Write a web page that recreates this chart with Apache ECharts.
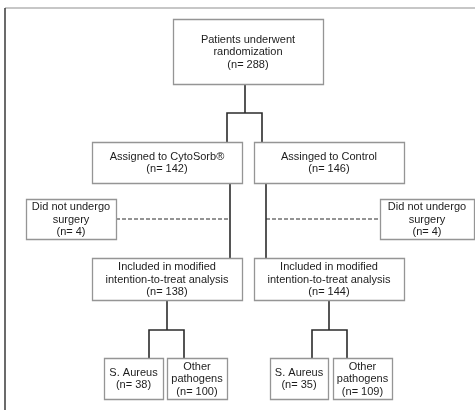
<!DOCTYPE html>
<html>
<head>
<meta charset="utf-8">
<script src="https://cdn.jsdelivr.net/npm/echarts@6/dist/echarts.min.js"></script>
<style>html,body{margin:0;padding:0;background:#fff}#c{width:475px;height:410px}</style>
</head>
<body>
<div id="c"></div>
<script>
// ---- Content (data) ----
const boxTitles = [
  "Patients underwent\nrandomization",
  "Assigned to CytoSorb®",
  "Assinged to Control",
  "Did not undergo\nsurgery",
  "Did not undergo\nsurgery",
  "Included in modified\nintention-to-treat analysis",
  "Included in modified\nintention-to-treat analysis",
  "S. Aureus",
  "Other\npathogens",
  "S. Aureus",
  "Other\npathogens"
];
const boxCounts = [288, 142, 146, 4, 4, 138, 144, 38, 100, 35, 109];

// ---- Layout (positions in diagram units, separate from data) ----
const boxRects = [
  [173, 19, 150, 65],
  [92, 142, 150, 41],
  [254, 142, 150, 41],
  [26, 199, 90, 40],
  [380, 199, 94, 40],
  [92, 258, 150, 42],
  [254, 258, 150, 42],
  [104, 358, 59, 41],
  [167, 358, 60, 41],
  [270, 358, 58, 41],
  [333, 358, 59, 41]
];
const solidLinks = [
  [[245, 84], [245, 113]],
  [[227, 142], [227, 113], [262, 113], [262, 142]],
  [[230, 183], [230, 258]],
  [[266, 183], [266, 258]],
  [[167, 300], [167, 330]],
  [[149, 358], [149, 330], [184, 330], [184, 358]],
  [[329, 300], [329, 330]],
  [[312, 358], [312, 330], [347, 330], [347, 358]]
];
const dashedLinks = [
  [[116, 219], [230, 219]],
  [[266, 219], [380, 219]]
];
const frameTop = [[[5, 8], [475, 8]]];
const frameLeft = [[[5, 8], [5, 410]]];

const chart = echarts.init(document.getElementById('c'), null, {renderer: 'canvas'});

const boxData = boxTitles.map((t, i) => ({
  value: boxRects[i],
  name: t + "\n(n= " + boxCounts[i] + ")"
}));

function renderBox(params, api) {
  const r = boxRects[params.dataIndex];
  const p0 = api.coord([r[0], r[1]]);
  const p1 = api.coord([r[0] + r[2], r[1] + r[3]]);
  const x = Math.min(p0[0], p1[0]), y = Math.min(p0[1], p1[1]);
  const w = Math.abs(p1[0] - p0[0]), h = Math.abs(p1[1] - p0[1]);
  return {
    type: 'group',
    children: [
      {
        type: 'rect',
        shape: {x: Math.round(x) + 0.5, y: Math.round(y) + 0.5, width: Math.round(w), height: Math.round(h)},
        style: {fill: '#fff', stroke: '#959595', lineWidth: 1.3}
      },
      {
        type: 'text',
        style: {
          x: x + w / 2,
          y: y + h / 2 + 0.5,
          text: boxData[params.dataIndex].name,
          align: 'center',
          verticalAlign: 'middle',
          fontSize: 11,
          lineHeight: 12.5,
          fontFamily: 'Liberation Sans, Arial, sans-serif',
          fill: '#1c1c1c'
        }
      }
    ]
  };
}

function linesSeries(list, color, width, type) {
  return {
    type: 'lines',
    coordinateSystem: 'cartesian2d',
    polyline: true,
    silent: true,
    symbol: 'none',
    animation: false,
    lineStyle: {color: color, width: width, type: type, opacity: 1},
    data: list.map(c => ({coords: c}))
  };
}

chart.setOption({
  animation: false,
  backgroundColor: '#fff',
  grid: {left: 0, right: 0, top: 0, bottom: 0},
  xAxis: {type: 'value', min: 0, max: 475, show: false},
  yAxis: {type: 'value', min: 0, max: 410, inverse: true, show: false},
  series: [
    linesSeries(frameTop, '#b4b4b4', 1.5, 'solid'),
    linesSeries(frameLeft, '#3a3a3a', 1.5, 'solid'),
    linesSeries(solidLinks, '#2b2b2b', 1.6, 'solid'),
    linesSeries(dashedLinks, '#2a2a2a', 1.2, [4, 2]),
    {
      type: 'custom',
      coordinateSystem: 'cartesian2d',
      renderItem: renderBox,
      data: boxData,
      silent: true,
      z: 5
    }
  ]
});
</script>
</body>
</html>
